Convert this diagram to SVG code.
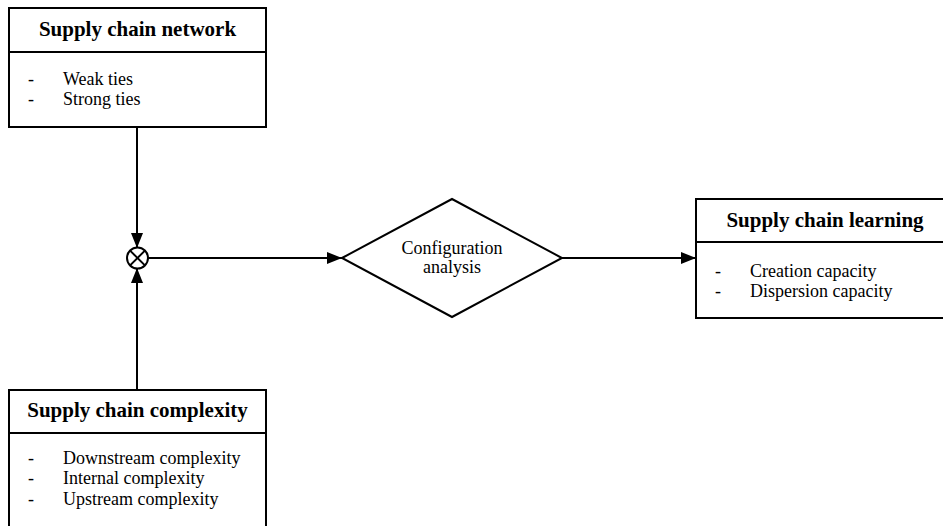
<svg xmlns="http://www.w3.org/2000/svg" width="943" height="526" viewBox="0 0 943 526">
  <defs>
    <style>
      .box { fill: #fff; stroke: #000; stroke-width: 2; }
      .line { fill: none; stroke: #000; stroke-width: 2; }
      text { font-family: "Liberation Serif", "DejaVu Serif", serif; fill: #000; }
      .title { font-weight: bold; font-size: 21px; text-anchor: middle; }
      .item { font-size: 18px; }
      .mid { text-anchor: middle; }
    </style>
    <marker id="arrow" markerWidth="15" markerHeight="12" refX="15" refY="6" orient="auto" markerUnits="userSpaceOnUse">
      <path d="M0,0 L15,6 L0,12 Z" fill="#000"/>
    </marker>
  </defs>
  <rect width="943" height="526" fill="#fff"/>

  <g id="connectors">
    <line class="line" x1="137" y1="127" x2="137" y2="248" marker-end="url(#arrow)"/>
    <line class="line" x1="137" y1="390" x2="137" y2="268" marker-end="url(#arrow)"/>
    <line class="line" x1="148" y1="258" x2="342" y2="258" marker-end="url(#arrow)"/>
    <line class="line" x1="562" y1="258" x2="696" y2="258" marker-end="url(#arrow)"/>
  </g>

  <g id="network">
    <rect class="box" x="9" y="8" width="257" height="119"/>
    <line class="line" x1="9" y1="52" x2="266" y2="52"/>
    <text class="title" x="137.5" y="36" font-family="Liberation Serif, serif">Supply chain network</text>
    <text class="item" x="28" y="85" font-family="Liberation Serif, serif">-</text>
    <text class="item" x="63" y="85" font-family="Liberation Serif, serif">Weak ties</text>
    <text class="item" x="28" y="105" font-family="Liberation Serif, serif">-</text>
    <text class="item" x="63" y="105" font-family="Liberation Serif, serif">Strong ties</text>
  </g>

  <g id="junction">
    <circle cx="137.5" cy="258" r="10.5" fill="#fff" stroke="#000" stroke-width="2"/>
    <line class="line" x1="130.1" y1="250.6" x2="144.9" y2="265.4"/>
    <line class="line" x1="144.9" y1="250.6" x2="130.1" y2="265.4"/>
  </g>

  <g id="complexity">
    <rect class="box" x="9" y="390" width="257" height="150"/>
    <line class="line" x1="9" y1="433" x2="266" y2="433"/>
    <text class="title" x="137.5" y="417" font-family="Liberation Serif, serif">Supply chain complexity</text>
    <text class="item" x="28" y="464" font-family="Liberation Serif, serif">-</text>
    <text class="item" x="63" y="464" font-family="Liberation Serif, serif">Downstream complexity</text>
    <text class="item" x="28" y="484" font-family="Liberation Serif, serif">-</text>
    <text class="item" x="63" y="484" font-family="Liberation Serif, serif">Internal complexity</text>
    <text class="item" x="28" y="505" font-family="Liberation Serif, serif">-</text>
    <text class="item" x="63" y="505" font-family="Liberation Serif, serif">Upstream complexity</text>
  </g>

  <g id="analysis">
    <polygon class="box" points="342,258 452,199 562,258 452,317"/>
    <text class="item mid" x="452" y="254" font-family="Liberation Serif, serif">Configuration</text>
    <text class="item mid" x="452" y="273" font-family="Liberation Serif, serif">analysis</text>
  </g>

  <g id="learning">
    <rect class="box" x="696" y="199" width="260" height="119"/>
    <line class="line" x1="696" y1="242" x2="956" y2="242"/>
    <text class="title" x="825" y="227" font-family="Liberation Serif, serif">Supply chain learning</text>
    <text class="item" x="715" y="277" font-family="Liberation Serif, serif">-</text>
    <text class="item" x="750" y="277" font-family="Liberation Serif, serif">Creation capacity</text>
    <text class="item" x="715" y="297" font-family="Liberation Serif, serif">-</text>
    <text class="item" x="750" y="297" font-family="Liberation Serif, serif">Dispersion capacity</text>
  </g>
</svg>
